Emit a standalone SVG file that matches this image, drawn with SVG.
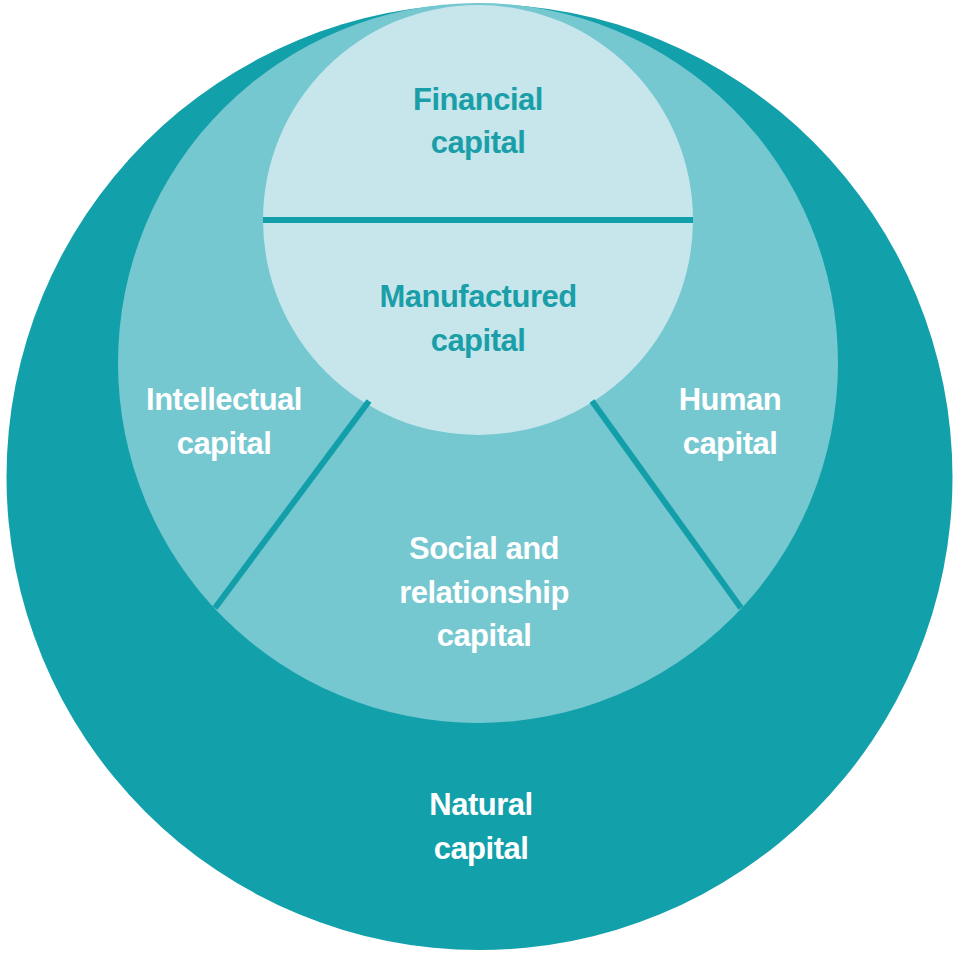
<svg xmlns="http://www.w3.org/2000/svg" width="959" height="954" viewBox="0 0 959 954">
<style>
.lbl{font-family:"Liberation Sans",Arial,sans-serif;font-weight:bold;font-size:31px;text-anchor:middle;letter-spacing:-0.5px}
.w{fill:#ffffff}
.t{fill:#1a9ea8}
.sep{stroke:#139fa9;stroke-width:6;fill:none}
</style>
<rect width="959" height="954" fill="#ffffff"/>
<g id="natural">
<circle cx="479.5" cy="477" r="473" fill="#12a0aa"/>
<text class="lbl w" x="481" y="815">Natural</text>
<text class="lbl w" x="481" y="859">capital</text>
</g>
<g id="middle">
<circle cx="478" cy="363" r="360" fill="#75c7d0"/>
</g>
<g id="inner">
<circle cx="478" cy="220" r="215" fill="#c6e6ec"/>
</g>
<g id="connectors">
<line class="sep" x1="263" y1="220" x2="693" y2="220"/>
<line class="sep" x1="369" y1="401" x2="215" y2="608"/>
<line class="sep" x1="592" y1="401" x2="741" y2="608"/>
</g>
<g id="financial">
<text class="lbl t" x="478" y="110">Financial</text>
<text class="lbl t" x="478" y="153">capital</text>
</g>
<g id="manufactured">
<text class="lbl t" x="478" y="307" letter-spacing="0">Manufactured</text>
<text class="lbl t" x="478" y="351">capital</text>
</g>
<g id="intellectual">
<text class="lbl w" x="224" y="410">Intellectual</text>
<text class="lbl w" x="224" y="454">capital</text>
</g>
<g id="human">
<text class="lbl w" x="730" y="410">Human</text>
<text class="lbl w" x="730" y="454">capital</text>
</g>
<g id="social">
<text class="lbl w" x="484" y="559">Social and</text>
<text class="lbl w" x="484" y="603">relationship</text>
<text class="lbl w" x="484" y="646">capital</text>
</g>
</svg>
